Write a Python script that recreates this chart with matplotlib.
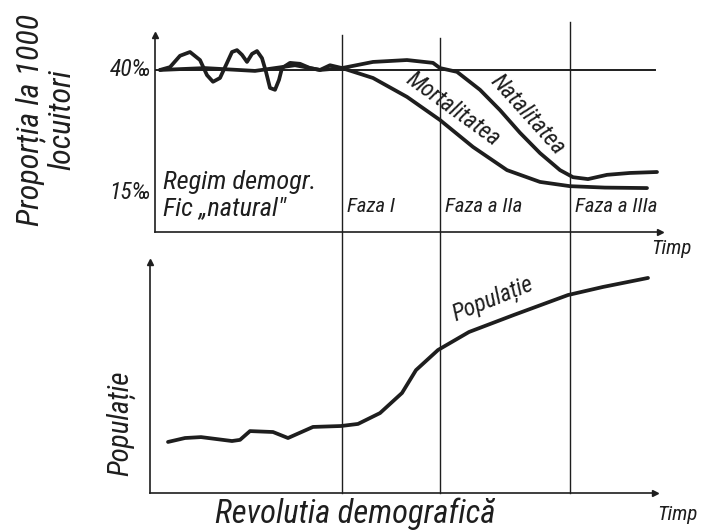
import matplotlib
matplotlib.use("Agg")
import matplotlib.pyplot as plt
import matplotlib.transforms as mtransforms

plt.rcParams['font.family'] = ['Roboto Condensed', 'DejaVu Sans']
plt.rcParams['font.style'] = 'italic'

INK = '#1e1e1e'

# time axis (arbitrary units), phase boundaries
phases = [37.4, 57, 83]
phase_labels = ['Faza I', 'Faza a IIa', 'Faza a IIIa']

# natality, per 1000 inhabitants
nat_t = [1, 10, 20, 28, 33, 37.4, 43.6, 50.4, 55.6, 57, 60.4, 65, 69, 73, 77, 81,
         83.6, 86.6, 90.4, 95, 100.4]
nat_v = [40, 40.4, 39.8, 41, 40, 40.4, 41.7, 42.1, 41.5, 40.4, 39.6, 35.8, 31.5,
         26.7, 22.4, 18.8, 17.3, 16.9, 17.8, 18.2, 18.4]

# mortality, per 1000 inhabitants
mor_t = [1, 3, 5, 7, 9, 10.4, 11.6, 13, 14.4, 15.4, 16.4, 17.4, 18.4, 19.4, 20.4,
         21.4, 22.2, 23, 24, 24.8, 25.4, 27, 29, 31, 33, 35, 37.4,
         43.6, 50.4, 57, 63.6, 70.4, 77, 83, 90, 98.4]
mor_v = [40, 40.6, 43, 43.8, 42.1, 38.9, 37.5, 38.3, 41.5, 43.8, 44.2, 43.2, 41.7,
         43.4, 44, 42.5, 39.6, 36.2, 35.8, 37.9, 40.4, 41.5, 41.3, 40.4, 40, 41, 40.4,
         38.3, 34.3, 29.4, 23.7, 18.8, 16.3, 15.4, 15.1, 15.0]

# population (index)
pop_t = [2.6, 6, 9.2, 15.4, 17, 19, 23.6, 26.6, 31.6, 37.2, 40.6, 45, 49.4, 52.2,
         56.6, 62.8, 71.8, 82.6, 89.6, 98.6]
pop_v = [22.1, 23.8, 24.2, 22.5, 23, 26.8, 26.4, 23.8, 28.6, 29, 29.9, 34.6, 43.3,
         53.2, 61.9, 69.7, 77.1, 85.7, 89.2, 93.1]

fig = plt.figure(figsize=(7.01, 5.32), dpi=100)
fig.patch.set_facecolor('white')

W, H = 701, 532
ax1 = fig.add_axes([155 / W, 1 - 232 / H, 505 / W, 197 / H])
ax2 = fig.add_axes([150 / W, 1 - 493 / H, 505 / W, 231 / H])

for ax in (ax1, ax2):
    ax.set_facecolor('none')
    for s in ('top', 'right'):
        ax.spines[s].set_visible(False)
    for s in ('left', 'bottom'):
        ax.spines[s].set_color(INK)
        ax.spines[s].set_linewidth(1.2)
    ax.set_xticks([])
    ax.set_yticks([])
    ax.plot(1, 0, '>', color=INK, ms=5, transform=ax.transAxes, clip_on=False)
    ax.plot(0, 1, '^', color=INK, ms=4, transform=ax.transAxes, clip_on=False)

ax1.set_xlim(0, 101)
ax1.set_ylim(5.7, 47.4)
ax2.set_xlim(-1, 100)
ax2.set_ylim(0, 100)

ax1.plot([0, 100], [40, 40], color=INK, lw=1.4)
ax1.plot(nat_t, nat_v, color=INK, lw=2.7, solid_joinstyle='round', solid_capstyle='round')
ax1.plot(mor_t, mor_v, color=INK, lw=2.7, solid_joinstyle='round', solid_capstyle='round')
ax2.plot(pop_t, pop_v, color=INK, lw=2.7, solid_joinstyle='round', solid_capstyle='round')

# phase boundaries across both panels
tr = mtransforms.blended_transform_factory(ax2.transData, fig.transFigure)
tops = [1 - 35 / H, 1 - 38 / H, 1 - 22 / H]
for p, top in zip(phases, tops):
    ax2.plot([p, p], [1 - 493 / H, top], color=INK, lw=1.0, transform=tr, clip_on=False)

def ftxt(x, y, s, **kw):
    fig.text(x / W, 1 - y / H, s, color=INK, **kw)

ftxt(151, 70, '40‰', ha='right', va='center', fontsize=17)
ftxt(151, 193, '15‰', ha='right', va='center', fontsize=17)
ftxt(46, 120, 'Proporția la 1000\nlocuitori', ha='center', va='center', rotation=90,
     fontsize=23, linespacing=1.05)
ftxt(163, 182, 'Regim demogr.', ha='left', va='center', fontsize=19)
ftxt(163, 208, 'Fic „natural"', ha='left', va='center', fontsize=19)
for p, lab in zip(phases, phase_labels):
    ax1.text(p + 1.0, 11.2, lab, ha='left', va='center', fontsize=15, color=INK)
ax1.text(59.5, 31.6, 'Mortalitatea', rotation=-36, ha='center', va='center',
         fontsize=17, color=INK)
ax1.text(74.5, 30.5, 'Natalitatea', rotation=-48, ha='center', va='center',
         fontsize=17, color=INK)
ftxt(671, 249, 'Timp', ha='center', va='center', fontsize=15)

ftxt(121, 423, 'Populație', ha='center', va='center', rotation=90, fontsize=21)
ax2.text(67.5, 84, 'Populație', rotation=22, ha='center', va='center',
         fontsize=17, color=INK)
ftxt(355, 514, 'Revolutia demografică', ha='center', va='center', fontsize=23.5)
ftxt(677, 514, 'Timp', ha='center', va='center', fontsize=15)

fig.savefig('out.png', dpi=100, facecolor='white')
